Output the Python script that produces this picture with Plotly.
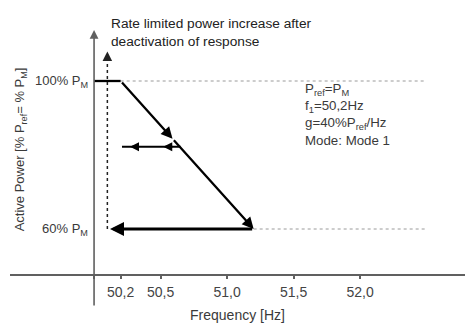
import plotly.graph_objects as go

# ---- data (Hz, % of P_M) ----
curve_f = [50.0, 50.2, 51.2]
curve_p = [100, 100, 60]
mid_arrow_f = 50.59          # arrowhead on the falling slope
return_f = [51.2, 50.12]     # return path at 60 %
return_p = [60, 60]
deact_f = 50.1               # dotted rate-limited increase
deact_p = [60, 106.5]
hyst_f = [50.65, 50.21]      # small horizontal arrow
hyst_p = 82.2
ref_lines_f = [[50.2, 52.5], [51.2, 52.5]]
ref_lines_p = [100, 60]
tick_vals = [50.0, 50.2, 50.5, 51.0, 51.5, 52.0]
tick_text = ["", "50,2", "50,5", "51,0", "51,5", "52,0"]
level_labels = ["100% P<sub>M</sub>", "60% P<sub>M</sub>"]
level_vals = [100, 60]
info_lines = ["P<sub>ref</sub>=P<sub>M</sub>", "f<sub>1</sub>=50,2Hz",
              "g=40%P<sub>ref</sub>/Hz", "Mode: Mode 1"]
info_p = [97.7, 93.1, 88.5, 83.9]

FONT = "Liberation Sans, Arial, sans-serif"
TXT = "#3a3a3a"
AX = "#606060"

fig = go.Figure()

# reference dotted lines
for fx, py in zip(ref_lines_f, ref_lines_p):
    fig.add_trace(go.Scatter(x=fx, y=[py, py], mode="lines",
                             line=dict(color="#9a9a9a", width=1, dash="dot"),
                             hoverinfo="skip", showlegend=False))

# horizontal plateau of characteristic
fig.add_trace(go.Scatter(x=curve_f[:2], y=curve_p[:2], mode="lines",
                         line=dict(color="black", width=2.3),
                         hoverinfo="skip", showlegend=False))

# small horizontal arrow line
fig.add_trace(go.Scatter(x=hyst_f, y=[hyst_p, hyst_p], mode="lines",
                         line=dict(color="black", width=2),
                         hoverinfo="skip", showlegend=False))

# dotted vertical line (rate limited increase)
fig.add_trace(go.Scatter(x=[deact_f, deact_f], y=deact_p, mode="lines",
                         line=dict(color="#222222", width=1.5, dash="dot"),
                         hoverinfo="skip", showlegend=False))

# slope value at mid arrow
mid_p = curve_p[1] + (curve_p[2] - curve_p[1]) * (mid_arrow_f - curve_f[1]) / (curve_f[2] - curve_f[1])

ann = []
def arrow(x, y, ax, ay, width=2.3, color="black", size=1.0, refs=True):
    d = dict(x=x, y=y, ax=ax, ay=ay, xref="x", yref="y", text="",
             showarrow=True, arrowhead=2, arrowsize=size, arrowwidth=width,
             arrowcolor=color)
    if refs:
        d.update(axref="x", ayref="y")
    ann.append(d)

# falling slope, two segments with arrowheads
arrow(mid_arrow_f, mid_p, curve_f[1], curve_p[1])
arrow(curve_f[2], curve_p[2], mid_arrow_f, mid_p)
# return path at 60 %
arrow(return_f[1], return_p[1], return_f[0], return_p[0], width=2.8)
# small horizontal arrowheads
arrow(50.52, hyst_p, 50.6, hyst_p, width=2, size=0.9)
arrow(50.27, hyst_p, 50.35, hyst_p, width=2, size=0.9)
# dotted line arrowhead
arrow(deact_f, 108.0, 0, 6, width=1.6, color="#222222", size=1.2, refs=False)
# y axis with arrow
arrow(50.0, 113.8, 0, 277, width=1.6, color=AX, size=1.1, refs=False)

# level labels
for lab, v in zip(level_labels, level_vals):
    ann.append(dict(x=49.97, y=v, xref="x", yref="y", text=lab, showarrow=False,
                    xanchor="right", yanchor="middle",
                    font=dict(family=FONT, size=13, color=TXT)))

# y-axis title
ann.append(dict(x=49.45, y=81.5, xref="x", yref="y",
                text="Active Power [% P<sub>ref</sub>= % P<sub>M</sub>]",
                showarrow=False, textangle=-90, xanchor="center", yanchor="middle",
                font=dict(family=FONT, size=13, color=TXT)))

# top note
ann.append(dict(x=50.11, y=118.0, xref="x", yref="y",
                text="Rate limited power increase after<br>deactivation of response",
                showarrow=False, xanchor="left", yanchor="top", align="left",
                font=dict(family=FONT, size=13.7, color="#222222")))

# info block
for t, p in zip(info_lines, info_p):
    ann.append(dict(x=51.57, y=p, xref="x", yref="y", text=t, showarrow=False,
                    xanchor="left", yanchor="middle",
                    font=dict(family=FONT, size=13.3, color=TXT)))

fig.update_layout(
    width=465, height=324,
    margin=dict(l=10, r=0, t=0, b=50),
    paper_bgcolor="white", plot_bgcolor="white",
    annotations=ann,
    xaxis=dict(range=[49.368, 52.789], showgrid=False, zeroline=False,
               showline=True, linecolor=AX, linewidth=1.6,
               ticks="outside", ticklen=3, tickwidth=1.5, tickcolor=AX,
               tickvals=tick_vals, ticktext=tick_text, ticklabelstandoff=1,
               tickfont=dict(family=FONT, size=14, color="#444444"),
               title=dict(text="Frequency [Hz]", standoff=12,
                          font=dict(family=FONT, size=14, color=TXT))),
    yaxis=dict(range=[47.84, 121.89], visible=False, showgrid=False, zeroline=False),
    showlegend=False,
)

fig.write_html("out.html", config={"displayModeBar": False},
               post_script="document.body.style.margin='0';document.body.style.overflow='hidden';")
